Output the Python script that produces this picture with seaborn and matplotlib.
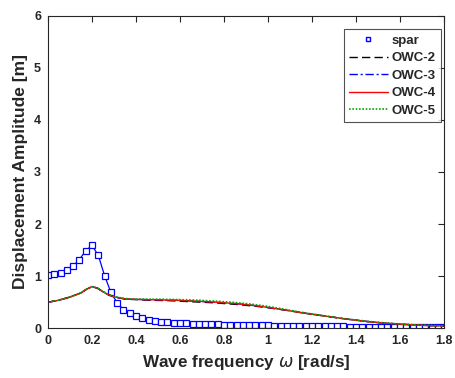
import numpy as np
import matplotlib
matplotlib.use("Agg")
import matplotlib.pyplot as plt
from matplotlib.lines import Line2D
import seaborn as sns

# spar response, 64 frequencies between 0 and 1.8 rad/s
spar_w = np.linspace(0, 1.8, 64)
spar_amp = [1.02, 1.04, 1.07, 1.12, 1.20, 1.32, 1.49, 1.59, 1.40, 1.01,
            0.69, 0.49, 0.36, 0.29, 0.23, 0.19, 0.16, 0.14, 0.128, 0.116,
            0.108, 0.100, 0.094, 0.089, 0.085, 0.081, 0.078, 0.075, 0.072, 0.069,
            0.066, 0.064, 0.061, 0.059, 0.057, 0.055, 0.053, 0.051, 0.049, 0.047,
            0.045, 0.044, 0.042, 0.041, 0.039, 0.038, 0.036, 0.035, 0.034, 0.033,
            0.032, 0.031, 0.030, 0.029, 0.028, 0.027, 0.026, 0.025, 0.024, 0.023,
            0.022, 0.021, 0.020, 0.019]

# OWC responses
owc_w = [0, 0.05, 0.1, 0.15, 0.175, 0.2, 0.225, 0.25, 0.275, 0.3, 0.35, 0.4, 0.45,
         0.5, 0.55, 0.6, 0.65, 0.7, 0.75, 0.8, 0.85, 0.9, 0.95, 1.0, 1.05, 1.1,
         1.15, 1.2, 1.25, 1.3, 1.35, 1.4, 1.45, 1.5, 1.55, 1.6, 1.65, 1.7, 1.75, 1.8]
owc2 = [0.50, 0.54, 0.60, 0.68, 0.75, 0.80, 0.77, 0.70, 0.64, 0.60, 0.56, 0.55, 0.54,
        0.535, 0.53, 0.52, 0.51, 0.50, 0.49, 0.475, 0.46, 0.44, 0.42, 0.395, 0.365, 0.335,
        0.30, 0.27, 0.24, 0.21, 0.18, 0.155, 0.13, 0.11, 0.095, 0.08, 0.068, 0.058, 0.05, 0.042]
owc3 = [0.50, 0.54, 0.60, 0.68, 0.75, 0.80, 0.77, 0.70, 0.645, 0.605, 0.565, 0.555, 0.55,
        0.545, 0.54, 0.535, 0.525, 0.515, 0.505, 0.49, 0.475, 0.455, 0.43, 0.40, 0.37, 0.335,
        0.30, 0.27, 0.24, 0.21, 0.18, 0.155, 0.13, 0.11, 0.095, 0.08, 0.068, 0.058, 0.05, 0.042]
owc4 = [0.50, 0.54, 0.60, 0.68, 0.75, 0.80, 0.77, 0.70, 0.645, 0.605, 0.565, 0.555, 0.55,
        0.545, 0.54, 0.535, 0.525, 0.515, 0.505, 0.49, 0.475, 0.455, 0.43, 0.40, 0.37, 0.335,
        0.30, 0.27, 0.24, 0.21, 0.18, 0.155, 0.13, 0.11, 0.095, 0.08, 0.068, 0.058, 0.05, 0.042]
owc5 = [0.50, 0.54, 0.60, 0.68, 0.75, 0.80, 0.77, 0.705, 0.65, 0.61, 0.57, 0.56, 0.56,
        0.56, 0.555, 0.55, 0.545, 0.535, 0.525, 0.51, 0.495, 0.475, 0.45, 0.42, 0.385, 0.345,
        0.31, 0.275, 0.245, 0.215, 0.185, 0.16, 0.135, 0.115, 0.098, 0.083, 0.07, 0.06, 0.052, 0.044]

sns.set_style("white")
plt.rcParams['font.family'] = ['Liberation Sans', 'DejaVu Sans']
plt.rcParams['mathtext.fontset'] = 'dejavusans'

fig = plt.figure(figsize=(4.55, 3.78), dpi=100)
ax = fig.add_axes([0.1055, 0.1315, 0.8705, 0.827])

sns.lineplot(x=spar_w, y=spar_amp, ax=ax, color='#0000ff', lw=0.9, marker='s',
             markersize=4.2, markerfacecolor='white', markeredgecolor='#0000ff',
             markeredgewidth=0.9, label='spar')
sns.lineplot(x=owc_w, y=owc2, ax=ax, color='black', lw=1.0, dashes=(6, 3), label='OWC-2')
sns.lineplot(x=owc_w, y=owc3, ax=ax, color='#0000ff', lw=1.0, dashes=(6, 2, 1.5, 2), label='OWC-3')
sns.lineplot(x=owc_w, y=owc4, ax=ax, color='#ff0000', lw=1.0, label='OWC-4')
sns.lineplot(x=owc_w, y=owc5, ax=ax, color='#00aa00', lw=1.2, dashes=(1, 1), label='OWC-5')

ax.set_xlim(0, 1.8)
ax.set_ylim(0, 6)
ax.set_xticks(np.arange(0, 1.81, 0.2))
ax.set_xticklabels(['0', '0.2', '0.4', '0.6', '0.8', '1', '1.2', '1.4', '1.6', '1.8'])
ax.set_yticks(range(0, 7))
ax.tick_params(direction='in', length=4, width=0.8, labelsize=9, colors='#262626',
               top=True, right=True, pad=5)
for lbl in ax.get_xticklabels() + ax.get_yticklabels():
    lbl.set_fontweight('bold')
for s in ax.spines.values():
    s.set_color('#262626')
    s.set_linewidth(0.8)

ax.set_xlabel(r'Wave frequency $\omega$ [rad/s]', fontsize=12.3, fontweight='bold', color='#262626')
ax.set_ylabel('Displacement Amplitude [m]', fontsize=12.5, fontweight='bold', color='#262626')

# spar legend entry shows only the marker, as in the original
handles, labels = ax.get_legend_handles_labels()
handles[0] = Line2D([], [], ls='none', marker='s', markersize=3.5, markerfacecolor='white',
                    markeredgecolor='#0000ff', markeredgewidth=1.0)
leg = ax.legend(handles, labels, loc='upper right', bbox_to_anchor=(0.992, 0.957),
                borderaxespad=0, prop={'size': 9.5, 'weight': 'bold'},
                frameon=True, fancybox=False, handlelength=2.9, borderpad=0.4,
                labelspacing=0.4, handletextpad=0.3)
leg.get_frame().set_edgecolor('#262626')
leg.get_frame().set_linewidth(0.8)

fig.savefig('out.png', dpi=100)
